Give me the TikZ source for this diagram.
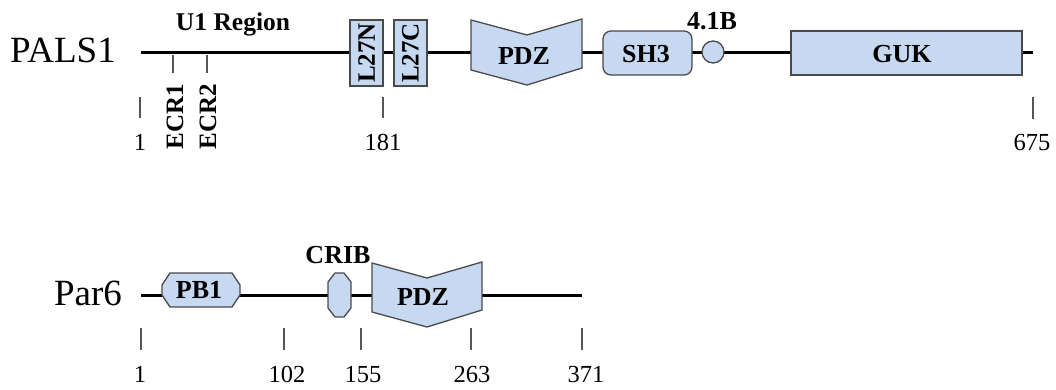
\documentclass[tikz,border=0pt]{standalone}
\usepackage{fontspec}
\setmainfont{Liberation Serif}
\definecolor{domfill}{HTML}{C6D9F1}
\definecolor{domdraw}{HTML}{4A4A4A}
\definecolor{tickcol}{HTML}{555555}
\tikzset{
  mainline/.style={line width=3pt, black},
  dom/.style={fill=domfill, draw=domdraw, line width=1.3pt},
  tickline/.style={draw=tickcol, line width=1.3pt},
  biglbl/.style={anchor=base, inner sep=0pt, font=\fontsize{37}{37}\selectfont},
  domlbl/.style={anchor=base, inner sep=0pt, font=\fontsize{26}{26}\selectfont\bfseries},
  numlbl/.style={anchor=base, inner sep=0pt, font=\fontsize{24.5}{24.5}\selectfont},
  rotlbl/.style={rotate=90, inner sep=0pt, font=\fontsize{25}{25}\selectfont\bfseries},
}
\begin{document}
\begin{tikzpicture}[x=1pt, y=-1pt]
\useasboundingbox (0,0) rectangle (1056,390);
% ---------------- PALS1 ----------------
\coordinate (pa) at (141,53);
\coordinate (pb) at (1033,53);
\draw[mainline] (pa) -- (pb);
\node[biglbl] (pals) at (63,63) {PALS1};
\node[domlbl, font=\fontsize{25.5}{25.5}\selectfont\bfseries] (u1) at (233,31) {U1 Region};
% ECR ticks
\coordinate (e1a) at (173,55); \coordinate (e1b) at (173,73);
\coordinate (e2a) at (207,55); \coordinate (e2b) at (207,73);
\draw[tickline] (e1a) -- (e1b);
\draw[tickline] (e2a) -- (e2b);
\node[rotlbl] (ecr1) at (175,117) {ECR1};
\node[rotlbl] (ecr2) at (208,117) {ECR2};
% L27 boxes
\node[dom, minimum width=33pt, minimum height=66pt, inner sep=0pt] (l27n) at (366.5,53) {};
\node[rotlbl] at (l27n.center) {L27N};
\node[dom, minimum width=33pt, minimum height=66pt, inner sep=0pt] (l27c) at (410.5,53) {};
\node[rotlbl] at (l27c.center) {L27C};
% PDZ
\draw[dom] (471,20) -- (527,35) -- (582,19) -- (582,68) -- (527,85) -- (471,70) -- cycle;
\node[domlbl] (pdz1) at (524,65) {PDZ};
% SH3
\draw[dom, rounded corners=8pt] (603,31) rectangle (692,75);
\node[domlbl] (sh3) at (646,63) {SH3};
% 4.1B
\node[dom, circle, minimum size=22pt, inner sep=0pt] (b41) at (713,52) {};
\node[domlbl] (b41l) at (712,30) {4.1B};
% GUK
\draw[dom] (791,31) rectangle (1022,75);
\node[domlbl] (guk) at (902,63) {GUK};
% position ticks
\coordinate (t1a) at (140,97); \coordinate (t1b) at (140,118);
\coordinate (t2a) at (383,97); \coordinate (t2b) at (383,118);
\coordinate (t3a) at (1033,97); \coordinate (t3b) at (1033,119);
\draw[tickline] (t1a) -- (t1b);
\draw[tickline] (t2a) -- (t2b);
\draw[tickline] (t3a) -- (t3b);
\node[numlbl] (n1) at (140,150) {1};
\node[numlbl] (n181) at (383,150) {181};
\node[numlbl] (n675) at (1032,150) {675};
% ---------------- Par6 ----------------
\coordinate (qa) at (141,295);
\coordinate (qb) at (582,295);
\draw[mainline] (qa) -- (qb);
\node[biglbl] (par6) at (88,305) {Par6};
% PB1
\draw[dom] (162,285) -- (170,273) -- (232,273) -- (240,285) -- (240,295) -- (232,307) -- (170,307) -- (162,295) -- cycle;
\node[domlbl] (pb1) at (199,298) {PB1};
% CRIB
\draw[dom] (328,282) -- (335,273) -- (344,273) -- (351,282) -- (351,308) -- (344,317) -- (335,317) -- (328,308) -- cycle;
\node[domlbl] (crib) at (338,263) {CRIB};
% PDZ
\draw[dom] (372,263) -- (427,278) -- (482,262) -- (482,310) -- (427,327) -- (372,312) -- cycle;
\node[domlbl] (pdz2) at (423,305) {PDZ};
% ticks
\foreach \x/\n in {141/a,284/b,361/c,471/d,582/e}{
  \coordinate (s\n1) at (\x,328);
  \coordinate (s\n2) at (\x,350);
  \draw[tickline] (s\n1) -- (s\n2);
}
\node[numlbl] (m1) at (140,382) {1};
\node[numlbl] (m102) at (287,382) {102};
\node[numlbl] (m155) at (363,382) {155};
\node[numlbl] (m263) at (472,382) {263};
\node[numlbl] (m371) at (586,382) {371};
\end{tikzpicture}
\end{document}
